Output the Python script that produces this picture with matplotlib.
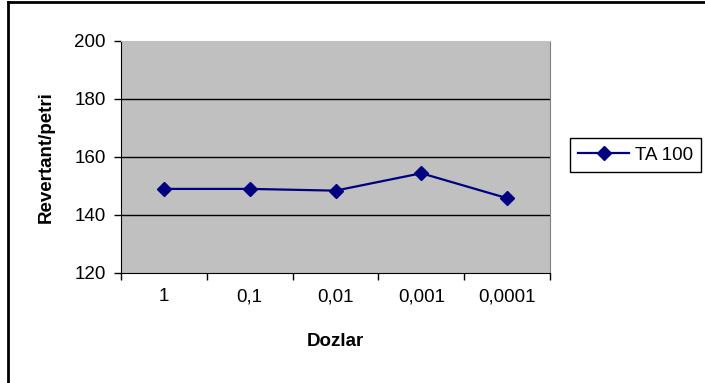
import matplotlib.pyplot as plt
from matplotlib.lines import Line2D
from matplotlib.ticker import FixedLocator, NullFormatter

plt.rcParams["font.family"] = ["Liberation Sans", "DejaVu Sans"]

doses = ["1", "0,1", "0,01", "0,001", "0,0001"]
ta100 = [149, 149, 148.4, 154.4, 145.8]
y_ticks = [120, 140, 160, 180, 200]

W, H = 705, 383
FS = 13.5
fig = plt.figure(figsize=(W / 100, H / 100), dpi=100)
ax = fig.add_axes([121 / W, (H - 273) / H, (550 - 121) / W, (273 - 41) / H])
ax.set_facecolor("#C0C0C0")

x = list(range(len(doses)))
ax.plot(x, ta100, color="#000080", lw=1.6, marker="D", ms=7.5, label="TA 100", zorder=3)

ax.set_xlim(-0.5, len(doses) - 0.5)
ax.set_ylim(120, 200)
ax.set_yticks(y_ticks)
ax.set_xticks(x)
ax.set_xticklabels(doses)
ax.xaxis.set_minor_locator(FixedLocator([i - 0.5 for i in range(len(doses) + 1)]))
ax.xaxis.set_minor_formatter(NullFormatter())
ax.tick_params(axis="x", which="major", length=0, pad=11, labelsize=FS)
ax.tick_params(axis="x", which="minor", length=5, width=1, direction="out")
ax.tick_params(axis="y", length=5, width=1, direction="out", pad=6, labelsize=FS)

for v in y_ticks[1:-1]:
    ax.axhline(v, color="black", lw=1, zorder=1)

ax.spines["left"].set_color("black")
ax.spines["bottom"].set_color("black")
ax.spines["right"].set_color("#808080")
ax.spines["top"].set_color("#C0C0C0")

ax.set_xlabel("Dozlar", fontsize=FS, fontweight="bold", labelpad=20)
ax.set_ylabel("Revertant/petri", fontsize=FS, fontweight="bold", labelpad=14)

fig.legend(loc="center left", bbox_to_anchor=(570 / W, 1 - 155 / H), fontsize=FS,
           frameon=True, fancybox=False, edgecolor="black", framealpha=1,
           handlelength=2.7, borderpad=0.45, handletextpad=0.3, borderaxespad=0)

# chart-area border, clipped by the image on the right and bottom
fig.add_artist(Line2D([8 / W, 8 / W], [0, 1 - 2 / H], color="black", lw=2))
fig.add_artist(Line2D([8 / W, 1], [1 - 2 / H, 1 - 2 / H], color="black", lw=2))

fig.savefig("out.png", dpi=100)
